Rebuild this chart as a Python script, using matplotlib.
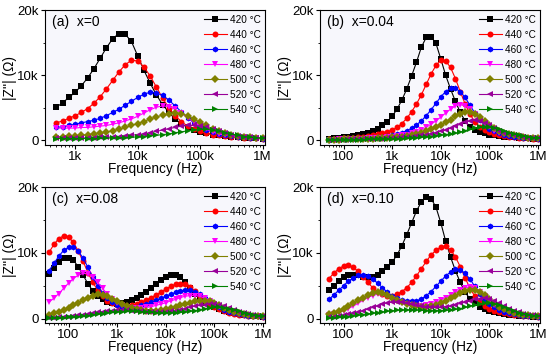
import matplotlib
matplotlib.use('Agg')
import matplotlib.pyplot as plt
from matplotlib.ticker import FixedLocator, FuncFormatter, LogLocator, NullFormatter
import numpy as np

plt.rcParams['font.family'] = ['Liberation Sans', 'DejaVu Sans']

# measurement frequencies (Hz), each curve uses the last len(y) points
freq = [39.8, 50.1, 63.1, 79.4, 100, 125.9, 158.5, 199.5, 251.2, 316.2,
        398.1, 501.2, 631, 794.3, 1000, 1259, 1585, 1995, 2512, 3162,
        3981, 5012, 6310, 7943, 10000, 12589, 15849, 19953, 25119, 31623,
        39811, 50119, 63096, 79433, 100000, 125893, 158489, 199526, 251189, 316228,
        398107, 501187, 630957, 794328, 1000000]

temps = ['420', '440', '460', '480', '500', '520', '540']

# |Z''| in kOhm, panel (a) x=0
za_420 = [5.1, 5.8, 6.6, 7.4, 8.4, 9.6, 11.0, 12.6, 14.2, 15.6, 16.4, 16.3, 15.2, 13.0, 10.8, 8.8, 7.0,
          5.5, 4.3, 3.3, 2.6, 2.0, 1.6, 1.3, 1.1, 0.9, 0.8, 0.7, 0.6, 0.5, 0.45, 0.4, 0.35, 0.3]
za_440 = [2.7, 3.0, 3.4, 3.8, 4.3, 4.9, 5.7, 6.7, 7.9, 9.2, 10.5, 11.6, 12.3, 12.2, 11.3, 9.9, 8.2,
          6.5, 5.0, 3.8, 2.9, 2.2, 1.7, 1.4, 1.1, 0.9, 0.8, 0.7, 0.6, 0.5, 0.45, 0.4, 0.35, 0.3]
za_460 = [2.0, 2.1, 2.3, 2.5, 2.7, 2.9, 3.1, 3.4, 3.8, 4.3, 4.8, 5.4, 6.0, 6.6, 7.1, 7.4, 7.3,
          6.9, 6.2, 5.3, 4.4, 3.5, 2.7, 2.1, 1.6, 1.3, 1.0, 0.8, 0.7, 0.6, 0.5, 0.4, 0.35, 0.3]
za_480 = [1.9, 1.9, 1.9, 1.9, 2.0, 2.0, 2.1, 2.2, 2.3, 2.5, 2.7, 3.0, 3.3, 3.7, 4.2, 4.7, 5.1,
          5.3, 5.2, 4.8, 4.2, 3.5, 2.8, 2.2, 1.7, 1.3, 1.0, 0.8, 0.7, 0.6, 0.5, 0.4, 0.35, 0.3]
za_500 = [0.6, 0.6, 0.7, 0.7, 0.8, 0.9, 1.0, 1.1, 1.3, 1.5, 1.7, 2.0, 2.3, 2.6, 2.9, 3.3, 3.6,
          3.9, 4.1, 4.2, 4.1, 3.8, 3.3, 2.8, 2.3, 1.8, 1.4, 1.1, 0.9, 0.7, 0.6, 0.5, 0.4, 0.35]
za_520 = [0.4, 0.4, 0.4, 0.4, 0.4, 0.4, 0.45, 0.5, 0.5, 0.55, 0.6, 0.7, 0.8, 0.9, 1.0, 1.2, 1.4,
          1.6, 1.8, 2.0, 2.2, 2.3, 2.3, 2.2, 2.0, 1.7, 1.4, 1.1, 0.9, 0.7, 0.6, 0.5, 0.4, 0.35]
za_540 = [0.3, 0.3, 0.3, 0.3, 0.3, 0.3, 0.3, 0.35, 0.35, 0.4, 0.4, 0.45, 0.5, 0.55, 0.6, 0.7, 0.8,
          0.9, 1.0, 1.2, 1.3, 1.5, 1.6, 1.7, 1.7, 1.6, 1.4, 1.2, 1.0, 0.8, 0.6, 0.5, 0.4, 0.35]

# panel (b) x=0.04
zb_420 = [0.3, 0.35, 0.4, 0.5, 0.6, 0.7, 0.85, 1.0, 1.2, 1.5, 1.8, 2.3, 2.9, 3.7, 4.8, 6.2, 7.9, 9.9, 12.0, 14.3,
          15.8, 15.9, 14.9, 12.5, 10.0, 7.9, 6.0, 4.3, 3.0, 2.1, 1.6, 1.3, 1.1, 0.9, 0.8, 0.7, 0.6, 0.55, 0.5, 0.45,
          0.4, 0.35, 0.3, 0.25]
zb_440 = [0.2, 0.25, 0.3, 0.35, 0.4, 0.45, 0.5, 0.6, 0.7, 0.8, 0.95, 1.1, 1.3, 1.6, 2.0, 2.6, 3.4, 4.4, 5.6, 7.0,
          8.6, 10.2, 11.5, 12.3, 12.2, 11.2, 9.5, 7.5, 5.6, 4.0, 2.9, 2.1, 1.6, 1.3, 1.0, 0.85, 0.7, 0.6, 0.5, 0.45,
          0.4, 0.35, 0.3, 0.25]
zb_460 = [0.1, 0.15, 0.2, 0.25, 0.3, 0.3, 0.35, 0.4, 0.45, 0.5, 0.55, 0.6, 0.7, 0.8, 1.0, 1.2, 1.5, 1.9, 2.4, 3.0,
          3.8, 4.7, 5.7, 6.7, 7.5, 8.0, 8.0, 7.5, 6.6, 5.4, 4.2, 3.2, 2.4, 1.8, 1.4, 1.1, 0.9, 0.75, 0.6, 0.5,
          0.45, 0.4, 0.35, 0.3]
zb_480 = [0.1, 0.1, 0.15, 0.2, 0.2, 0.25, 0.3, 0.3, 0.35, 0.4, 0.4, 0.45, 0.5, 0.6, 0.7, 0.8, 0.9, 1.1, 1.3, 1.6,
          2.0, 2.5, 3.0, 3.6, 4.2, 4.8, 5.3, 5.5, 5.3, 4.8, 4.1, 3.3, 2.6, 2.0, 1.5, 1.2, 1.0, 0.8, 0.7, 0.6,
          0.5, 0.4, 0.35, 0.3]
zb_500 = [0.1, 0.1, 0.1, 0.15, 0.15, 0.2, 0.2, 0.25, 0.3, 0.3, 0.35, 0.4, 0.45, 0.5, 0.55, 0.6, 0.7, 0.8, 1.0, 1.2,
          1.4, 1.7, 2.0, 2.4, 2.8, 3.2, 3.7, 4.1, 4.4, 4.4, 4.1, 3.6, 3.0, 2.4, 1.9, 1.5, 1.2, 0.95, 0.8, 0.65,
          0.55, 0.45, 0.4, 0.35]
zb_520 = [0.1, 0.1, 0.1, 0.1, 0.15, 0.15, 0.2, 0.2, 0.25, 0.25, 0.3, 0.3, 0.35, 0.4, 0.45, 0.5, 0.55, 0.6, 0.7, 0.8,
          0.9, 1.0, 1.2, 1.4, 1.6, 1.9, 2.2, 2.5, 2.8, 3.0, 3.1, 3.0, 2.7, 2.3, 1.9, 1.5, 1.2, 1.0, 0.8, 0.65,
          0.55, 0.45, 0.4, 0.35]
zb_540 = [0.05, 0.05, 0.05, 0.05, 0.1, 0.1, 0.1, 0.1, 0.15, 0.15, 0.15, 0.2, 0.2, 0.25, 0.3, 0.3, 0.35, 0.4, 0.45, 0.5,
          0.55, 0.6, 0.7, 0.8, 0.9, 1.0, 1.1, 1.3, 1.5, 1.7, 1.9, 2.0, 2.1, 2.1, 1.9, 1.7, 1.4, 1.2, 1.0, 0.8,
          0.65, 0.55, 0.45, 0.4]

# panel (c) x=0.08
zc_420 = [6.8, 7.7, 8.6, 9.2, 9.3, 8.9, 7.9, 6.6, 5.3, 4.2, 3.4, 2.9, 2.5, 2.3, 2.2, 2.3, 2.5, 2.8, 3.2, 3.6,
          4.0, 4.6, 5.3, 5.9, 6.4, 6.7, 6.7, 6.3, 5.6, 4.7, 3.8, 3.0, 2.4, 2.0, 1.7, 1.4, 1.2, 1.0, 0.8, 0.7,
          0.6, 0.5, 0.4, 0.35, 0.3]
zc_440 = [10.1, 11.3, 12.2, 12.6, 12.4, 11.6, 10.3, 8.7, 7.0, 5.5, 4.3, 3.4, 2.7, 2.3, 2.0, 1.9, 1.9, 2.0, 2.2, 2.5,
          2.8, 3.2, 3.6, 4.0, 4.5, 4.9, 5.2, 5.3, 5.2, 4.8, 4.2, 3.5, 2.8, 2.2, 1.7, 1.4, 1.1, 0.9, 0.75, 0.6,
          0.5, 0.45, 0.4, 0.35, 0.3]
zc_460 = [7.3, 8.4, 9.5, 10.4, 10.9, 10.9, 10.3, 9.2, 7.8, 6.3, 5.0, 3.9, 3.1, 2.5, 2.1, 1.8, 1.7, 1.7, 1.8, 2.0,
          2.2, 2.5, 2.8, 3.1, 3.4, 3.7, 4.0, 4.2, 4.3, 4.3, 4.1, 3.7, 3.2, 2.6, 2.1, 1.7, 1.3, 1.05, 0.85, 0.7,
          0.55, 0.45, 0.4, 0.35, 0.3]
zc_480 = [2.5, 3.1, 3.8, 4.6, 5.4, 6.1, 6.6, 6.9, 6.8, 6.3, 5.5, 4.6, 3.7, 3.0, 2.4, 2.0, 1.8, 1.6, 1.6, 1.6,
          1.7, 1.8, 2.0, 2.2, 2.4, 2.7, 2.9, 3.2, 3.4, 3.5, 3.5, 3.4, 3.1, 2.7, 2.2, 1.8, 1.4, 1.1, 0.9, 0.7,
          0.55, 0.45, 0.4, 0.35, 0.3]
zc_500 = [0.6, 0.8, 1.0, 1.3, 1.6, 2.0, 2.4, 2.8, 3.2, 3.5, 3.7, 3.6, 3.4, 3.0, 2.6, 2.2, 1.9, 1.6, 1.4, 1.3,
          1.2, 1.2, 1.2, 1.3, 1.4, 1.6, 1.8, 2.0, 2.2, 2.4, 2.6, 2.7, 2.7, 2.6, 2.4, 2.0, 1.6, 1.3, 1.0, 0.8,
          0.65, 0.5, 0.45, 0.4, 0.35]
zc_520 = [0.1, 0.15, 0.2, 0.25, 0.3, 0.4, 0.5, 0.6, 0.7, 0.8, 0.95, 1.05, 1.15, 1.2, 1.25, 1.25, 1.25, 1.2, 1.15, 1.1,
          1.05, 1.0, 1.0, 1.0, 1.05, 1.1, 1.2, 1.35, 1.5, 1.7, 1.9, 2.0, 2.1, 2.2, 2.2, 2.1, 1.9, 1.6, 1.3, 1.0,
          0.8, 0.65, 0.5, 0.45, 0.4]
zc_540 = [0.05, 0.1, 0.1, 0.15, 0.2, 0.25, 0.3, 0.35, 0.45, 0.55, 0.65, 0.75, 0.85, 0.95, 1.0, 1.05, 1.1, 1.1, 1.1, 1.05,
          1.0, 0.95, 0.9, 0.85, 0.85, 0.85, 0.9, 0.95, 1.0, 1.1, 1.2, 1.35, 1.5, 1.6, 1.7, 1.7, 1.65, 1.5, 1.3, 1.1,
          0.9, 0.7, 0.55, 0.45, 0.4]

# panel (d) x=0.10
zd_420 = [4.4, 5.0, 5.7, 6.3, 6.6, 6.7, 6.6, 6.4, 6.3, 6.4, 6.7, 7.2, 7.8, 8.6, 9.7, 11.1, 12.8, 14.6, 16.4, 17.8,
          18.5, 18.3, 17.0, 14.6, 11.8, 9.4, 7.3, 5.5, 4.0, 3.0, 2.3, 1.8, 1.5, 1.2, 1.0, 0.85, 0.7, 0.6, 0.5, 0.45,
          0.4, 0.35, 0.3, 0.25]
zd_440 = [6.1, 6.9, 7.6, 8.0, 8.1, 7.8, 7.2, 6.4, 5.5, 4.7, 4.1, 3.7, 3.5, 3.5, 3.7, 4.1, 4.7, 5.5, 6.5, 7.6,
          8.7, 9.7, 10.4, 10.9, 11.0, 10.5, 9.4, 7.9, 6.2, 4.6, 3.4, 2.5, 1.9, 1.5, 1.2, 1.0, 0.8, 0.7, 0.6, 0.5,
          0.45, 0.4, 0.35, 0.3]
zd_460 = [2.9, 3.6, 4.3, 5.0, 5.7, 6.2, 6.6, 6.7, 6.5, 6.0, 5.4, 4.7, 4.0, 3.5, 3.1, 2.8, 2.6, 2.6, 2.7, 3.0,
          3.5, 4.1, 4.9, 5.7, 6.5, 7.1, 7.5, 7.4, 6.9, 6.0, 4.9, 3.8, 2.9, 2.2, 1.7, 1.3, 1.05, 0.85, 0.7, 0.55,
          0.45, 0.4, 0.35, 0.3]
zd_480 = [0.5, 0.7, 0.9, 1.2, 1.5, 1.9, 2.3, 2.8, 3.2, 3.5, 3.7, 3.6, 3.4, 3.0, 2.7, 2.4, 2.2, 2.0, 1.9, 1.9,
          2.0, 2.2, 2.5, 2.8, 3.2, 3.6, 4.0, 4.4, 4.7, 4.8, 4.6, 4.1, 3.4, 2.7, 2.1, 1.6, 1.3, 1.0, 0.8, 0.65,
          0.55, 0.45, 0.4, 0.35]
zd_500 = [0.7, 0.9, 1.2, 1.5, 1.9, 2.3, 2.8, 3.2, 3.6, 3.9, 4.0, 3.9, 3.6, 3.2, 2.8, 2.5, 2.2, 2.0, 1.9, 1.8,
          1.8, 1.9, 2.1, 2.4, 2.7, 3.1, 3.5, 3.9, 4.2, 4.4, 4.4, 4.1, 3.6, 2.9, 2.3, 1.8, 1.4, 1.1, 0.9, 0.7,
          0.6, 0.5, 0.45, 0.4]
zd_520 = [0.2, 0.3, 0.4, 0.5, 0.65, 0.8, 1.0, 1.2, 1.45, 1.7, 1.95, 2.2, 2.4, 2.5, 2.5, 2.5, 2.4, 2.2, 2.0, 1.9,
          1.8, 1.7, 1.7, 1.7, 1.8, 1.9, 2.1, 2.3, 2.5, 2.7, 2.9, 3.0, 3.1, 3.0, 2.7, 2.3, 1.9, 1.5, 1.2, 0.95,
          0.75, 0.6, 0.5, 0.4]
zd_540 = [0.1, 0.15, 0.2, 0.25, 0.3, 0.4, 0.5, 0.6, 0.7, 0.8, 0.9, 1.0, 1.1, 1.2, 1.25, 1.3, 1.3, 1.3, 1.3, 1.25,
          1.2, 1.2, 1.2, 1.2, 1.25, 1.3, 1.4, 1.5, 1.7, 1.9, 2.1, 2.2, 2.3, 2.3, 2.2, 2.0, 1.7, 1.4, 1.1, 0.9,
          0.7, 0.55, 0.45, 0.4]

colors = ['#000000', '#ff0000', '#0000ff', '#ff00ff', '#808000', '#990099', '#008000']
markers = ['s', 'o', 'h', 'v', 'D', '<', '>']


def hz_fmt(v, pos):
    if v >= 1e6:
        return f'{v / 1e6:g}M'
    if v >= 1e3:
        return f'{v / 1e3:g}k'
    return f'{v:g}'


def k_fmt(v, pos):
    return '0' if v == 0 else f'{v / 1e3:g}k'


def draw_panel(ax, series, title, xlo, xticks):
    for y, t, c, m in zip(series, temps, colors, markers):
        f = freq[-len(y):]
        ax.plot(f, np.array(y) * 1000, color=c, marker=m, ms=4.3 if m != 'D' else 3.6,
                lw=0.8, mew=0, label=f'{t} °C')
    ax.set_facecolor('#f7f7fc')
    ax.set_xscale('log')
    ax.set_xlim(xlo, 1.1e6)
    ax.set_ylim(-700, 20000)
    ax.xaxis.set_major_locator(FixedLocator(xticks))
    ax.xaxis.set_major_formatter(FuncFormatter(hz_fmt))
    ax.xaxis.set_minor_locator(LogLocator(base=10, subs=np.arange(2, 10)))
    ax.xaxis.set_minor_formatter(NullFormatter())
    ax.yaxis.set_major_locator(FixedLocator([0, 10000, 20000]))
    ax.yaxis.set_minor_locator(FixedLocator([5000, 15000]))
    ax.yaxis.set_major_formatter(FuncFormatter(k_fmt))
    ax.tick_params(which='both', direction='out', top=False, right=False, labelsize=9.5, pad=1.5)
    ax.tick_params(which='major', length=3, width=0.8)
    ax.tick_params(which='minor', length=1.6, width=0.6)
    for s in ax.spines.values():
        s.set_linewidth(0.8)
    ax.set_xlabel('Frequency (Hz)', fontsize=9.8, labelpad=-1)
    ax.set_ylabel("|Z''| (\u03a9)", fontsize=9.8, labelpad=0)
    ax.text(0.03, 0.965, title, transform=ax.transAxes, fontsize=10, va='top', ha='left')
    ax.legend(loc='upper right', frameon=False, fontsize=7.2, handlelength=2.3,
              labelspacing=0.5, borderaxespad=0.25, handletextpad=0.3, borderpad=0.2)


fig = plt.figure(figsize=(5.5, 3.59), dpi=100)
ax_a = fig.add_axes([0.082, 0.596, 0.4, 0.376])
ax_b = fig.add_axes([0.582, 0.596, 0.4, 0.376])
ax_c = fig.add_axes([0.082, 0.100, 0.4, 0.378])
ax_d = fig.add_axes([0.582, 0.100, 0.4, 0.378])

draw_panel(ax_a, [za_420, za_440, za_460, za_480, za_500, za_520, za_540], '(a)  x=0',
           330, [1e3, 1e4, 1e5, 1e6])
draw_panel(ax_b, [zb_420, zb_440, zb_460, zb_480, zb_500, zb_520, zb_540], '(b)  x=0.04',
           33, [1e2, 1e3, 1e4, 1e5, 1e6])
draw_panel(ax_c, [zc_420, zc_440, zc_460, zc_480, zc_500, zc_520, zc_540], '(c)  x=0.08',
           33, [1e2, 1e3, 1e4, 1e5, 1e6])
draw_panel(ax_d, [zd_420, zd_440, zd_460, zd_480, zd_500, zd_520, zd_540], '(d)  x=0.10',
           33, [1e2, 1e3, 1e4, 1e5, 1e6])

fig.savefig('out.png', dpi=100)
